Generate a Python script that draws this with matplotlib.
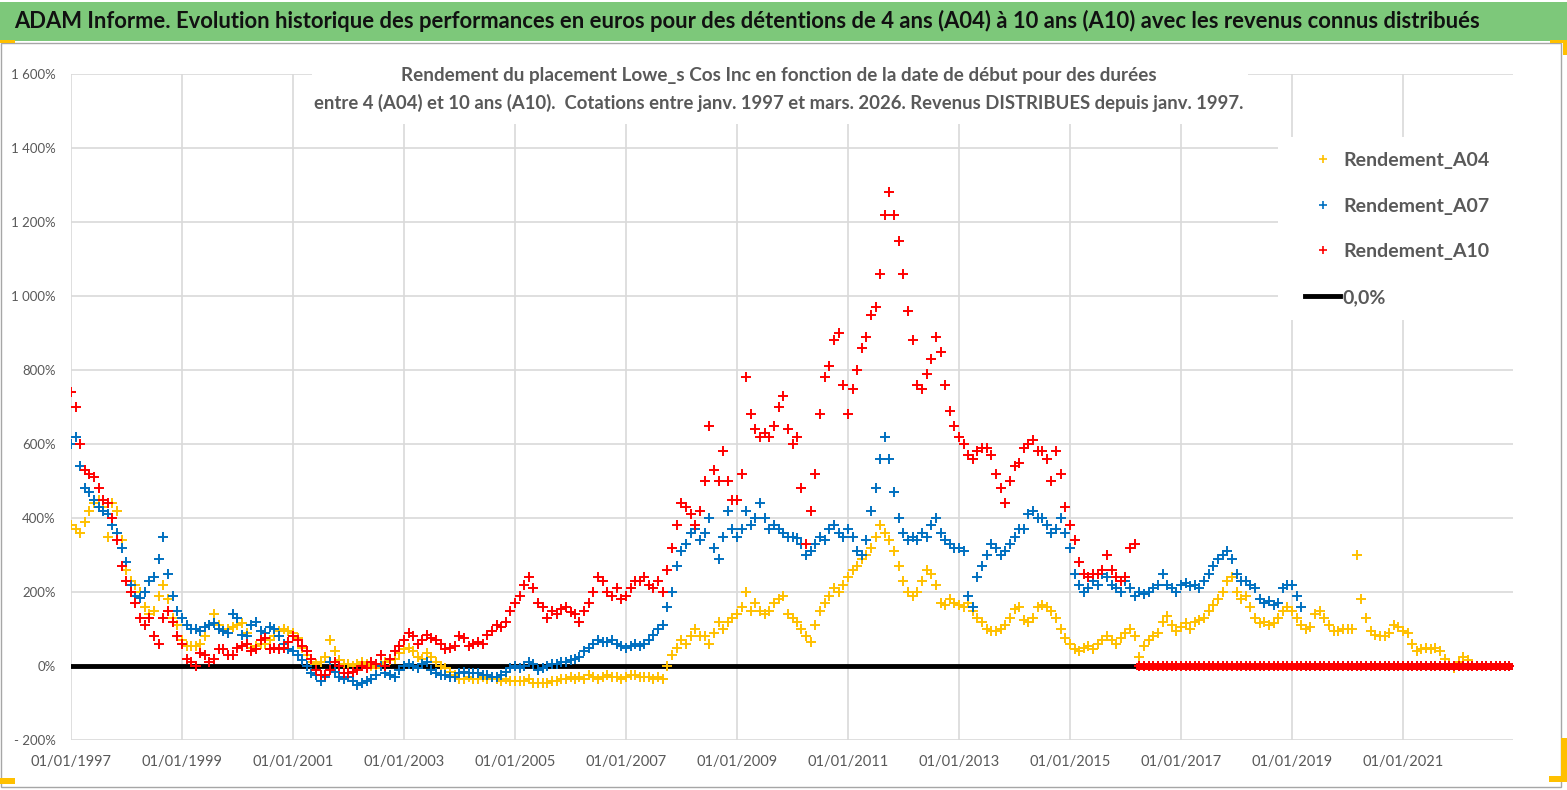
"""
ADAM Informe - rendement Lowe_s Cos Inc, détentions de 4 à 10 ans.
Nuage de points mensuels + ligne 0,0 %.
"""
import numpy as np
import pandas as pd
import matplotlib
matplotlib.use("Agg")
import matplotlib.pyplot as plt
from matplotlib.patches import Rectangle
from matplotlib.lines import Line2D

plt.rcParams["font.family"] = ["Lato", "DejaVu Sans"]

W, H = 1567, 790
N_MONTHS = 312  # janv. 1997 -> déc. 2022

# rendements en %, un point par mois à partir de janv. 1997
a04 = [
    380, 370, 360, 390, 420, 440, 450, 430, 350, 440, 420, 340,   # 1997
    260, 230, 220, 200, 160, 140, 150, 190, 220, 180, 130, 110,   # 1998
    70, 55, 55, 55, 60, 80, 110, 140, 110, 95, 100, 105,          # 1999
    110, 115, 90, 50, 55, 60, 60, 70, 80, 95, 100, 95,            # 2000
    90, 75, 50, 30, 10, 5, 10, 25, 70, 40, 15, 5,                 # 2001
    5, 0, 5, 10, 5, 0, -5, 5, 10, 15, 20, 35,                     # 2002
    45, 50, 40, 25, 20, 35, 25, 10, 0, -5, -15, -25,              # 2003
    -35, -35, -30, -35, -35, -30, -35, -30, -35, -40, -35, -40,   # 2004
    -40, -40, -40, -35, -45, -45, -45, -45, -40, -40, -35, -35,   # 2005
    -30, -35, -30, -35, -25, -30, -35, -30, -25, -30, -30, -35,   # 2006
    -30, -25, -25, -30, -30, -30, -35, -30, -35, 0, 30, 50,       # 2007
    70, 60, 80, 100, 80, 80, 60, 90, 120, 100, 120, 130,          # 2008
    140, 160, 200, 150, 170, 150, 140, 150, 170, 180, 190, 140,   # 2009
    130, 120, 100, 80, 65, 110, 150, 170, 190, 210, 200, 220,     # 2010
    240, 260, 270, 290, 300, 320, 350, 380, 360, 340, 310, 270,   # 2011
    230, 200, 190, 200, 230, 260, 250, 220, 170, 165, 180, 170,   # 2012
    165, 160, 170, 150, 130, 120, 100, 95, 95, 100, 110, 130,     # 2013
    155, 160, 125, 120, 130, 160, 165, 160, 150, 130, 100, 75,    # 2014
    60, 45, 40, 50, 55, 45, 60, 70, 80, 70, 60, 75,               # 2015
    90, 100, 80, 25, 55, 70, 80, 90, 120, 135, 110, 95,           # 2016
    105, 115, 100, 120, 125, 130, 150, 165, 180, 200, 230, 240,   # 2017
    200, 180, 190, 160, 130, 115, 120, 110, 115, 130, 150, 160,   # 2018
    150, 130, 110, 100, 105, 140, 150, 130, 110, 95, 95, 100,     # 2019
    100, 100, 300, 180, 130, 95, 85, 80, 80, 90, 110, 105,        # 2020
    95, 90, 60, 40, 45, 50, 45, 50, 40, 20, 5, -5,                # 2021
    10, 25, 15,                                                   # 2022
]
a07 = [
    600, 620, 540, 480, 470, 450, 430, 420, 410, 380, 360, 320,   # 1997
    280, 220, 190, 185, 200, 230, 240, 290, 350, 250, 190, 150,   # 1998
    130, 110, 100, 100, 95, 105, 110, 115, 100, 95, 90, 140,      # 1999
    130, 85, 80, 110, 120, 95, 90, 105, 100, 80, 60, 45,          # 2000
    40, 30, 15, 0, -20, -25, -40, -30, 10, -15, -30, -35,         # 2001
    -30, -40, -50, -45, -40, -35, -25, 0, -20, -25, -30, -10,     # 2002
    0, 5, 0, -5, 5, 10, -10, -20, -25, -25, -30, -30,             # 2003
    -20, -15, -20, -20, -20, -25, -25, -30, -30, -25, -15, -5,    # 2004
    0, -5, 0, 10, 5, -10, -5, 0, 5, 5, 10, 10,                    # 2005
    15, 20, 25, 40, 50, 60, 70, 65, 65, 70, 60, 55,               # 2006
    50, 55, 60, 55, 60, 70, 85, 100, 110, 160, 200, 270,          # 2007
    310, 330, 360, 370, 340, 360, 400, 320, 290, 350, 420, 370,   # 2008
    350, 370, 420, 380, 400, 440, 400, 370, 380, 370, 360, 350,   # 2009
    350, 345, 330, 300, 310, 330, 350, 340, 370, 380, 360, 350,   # 2010
    370, 350, 310, 300, 340, 420, 480, 560, 620, 560, 470, 400,   # 2011
    360, 340, 350, 340, 360, 350, 380, 400, 360, 340, 330, 320,   # 2012
    320, 310, 190, 160, 240, 270, 300, 330, 320, 300, 310, 330,   # 2013
    350, 370, 370, 410, 420, 400, 400, 380, 360, 370, 400, 360,   # 2014
    320, 250, 220, 200, 210, 230, 220, 250, 240, 220, 210, 200,   # 2015
    230, 210, 190, 200, 195, 200, 210, 220, 250, 220, 210, 200,   # 2016
    220, 225, 215, 220, 210, 230, 250, 270, 290, 300, 310, 290,   # 2017
    250, 230, 230, 220, 210, 180, 170, 175, 165, 170, 210, 220,   # 2018
    220, 190, 160,                                                # 2019
]
a10 = [
    740, 700, 600, 530, 520, 510, 480, 450, 440, 400, 340, 270,   # 1997
    230, 200, 170, 130, 110, 130, 80, 60, 130, 150, 120, 80,      # 1998
    60, 20, 10, 0, 35, 30, 10, 20, 45, 45, 30, 30,                # 1999
    50, 55, 60, 40, 45, 70, 75, 45, 50, 45, 50, 65,               # 2000
    80, 70, 55, 40, 20, -10, -25, -25, -10, 10, 0, -20,           # 2001
    -20, -15, -10, 0, -5, 10, 5, 30, 0, 20, 40, 55,               # 2002
    70, 90, 80, 60, 70, 85, 75, 70, 60, 45, 50, 55,               # 2003
    80, 75, 55, 60, 65, 60, 85, 95, 110, 105, 120, 150,           # 2004
    170, 190, 220, 240, 210, 170, 160, 130, 150, 140, 155, 160,   # 2005
    145, 140, 120, 150, 170, 200, 240, 230, 200, 190, 210, 180,   # 2006
    190, 210, 230, 230, 240, 220, 210, 230, 200, 260, 320, 380,   # 2007
    440, 430, 410, 380, 420, 500, 650, 530, 500, 580, 500, 450,   # 2008
    450, 520, 780, 680, 640, 620, 630, 620, 650, 700, 730, 640,   # 2009
    600, 620, 480, 330, 420, 520, 680, 780, 810, 880, 900, 760,   # 2010
    680, 750, 800, 860, 890, 950, 970, 1060, 1220, 1280, 1220, 1150,  # 2011
    1060, 960, 880, 760, 750, 790, 830, 890, 850, 760, 690, 650,  # 2012
    620, 600, 570, 560, 580, 590, 590, 570, 520, 480, 440, 500,   # 2013
    540, 550, 590, 600, 610, 580, 580, 560, 500, 580, 520, 430,   # 2014
    380, 340, 280, 250, 240, 250, 250, 260, 300, 260, 240, 230,   # 2015
    240, 320, 330,                                                # 2016
]

labels = ["Rendement_A04", "Rendement_A07", "Rendement_A10", "0,0%"]
colors = ["#FFC000", "#0070C0", "#FF0000"]

title = ("ADAM Informe. Evolution historique des performances en euros pour des "
         "détentions de 4 ans (A04) à 10 ans (A10) avec les revenus connus distribués")
sub1 = ("Rendement du placement Lowe_s Cos Inc en fonction de la date de début "
        "pour des durées")
sub2 = ("entre 4 (A04) et 10 ans (A10).  Cotations entre janv. 1997 et mars. 2026. "
        "Revenus DISTRIBUES depuis janv. 1997.")

dates = pd.date_range("1997-01-01", periods=N_MONTHS, freq="MS")


def pad(v):
    # après la dernière cotation utile la série vaut 0
    return np.array(v + [0] * (N_MONTHS - len(v)), dtype=float)


def fx(px):
    return px / W


def fy(py):
    return 1 - py / H


fig = plt.figure(figsize=(W / 100, H / 100), dpi=100)
renderer = fig.canvas.get_renderer()


def fit(t, target):
    w = t.get_window_extent(renderer).width
    t.set_fontsize(t.get_fontsize() * target / w)


# bandeau titre + cadre
fig.patches.append(Rectangle((0, fy(41)), 1, fy(2) - fy(41), transform=fig.transFigure,
                             facecolor="#7DC87A", edgecolor="none", zorder=0))
fig.patches.append(Rectangle((fx(1), fy(787)), fx(1561) - fx(1), fy(43) - fy(787),
                             transform=fig.transFigure, facecolor="none",
                             edgecolor="#A6A6A6", lw=1, zorder=0))
for (x0, y0, x1, y1) in [(0, 40, 15, 43), (1550, 40, 1567, 43), (1563, 40, 1567, 55),
                         (1561, 738, 1567, 782), (1549, 776, 1567, 782), (0, 778, 15, 784)]:
    fig.patches.append(Rectangle((fx(x0), fy(y1)), fx(x1) - fx(x0), fy(y0) - fy(y1),
                                 transform=fig.transFigure, facecolor="#FFC000",
                                 edgecolor="none", zorder=1))
t = fig.text(fx(14), fy(21), title, ha="left", va="center", fontsize=16,
             fontweight="bold", color="#111111")
fit(t, 1471)

ax = fig.add_axes([fx(71), fy(740), fx(1513) - fx(71), fy(74) - fy(740)])
ax.plot(dates, np.zeros(N_MONTHS), color="black", lw=3.5, zorder=1.5)
for vals, col, z in zip([a04, a07, a10], colors, [2, 3, 4]):
    full = pad(vals)
    ax.plot(dates, full, ls="none", marker="+", ms=7, mew=1.4, color=col, zorder=z)
    # points à 0 quotidiens si serrés qu'ils forment une bande
    tail = dates[len(vals):]
    if len(tail):
        ax.plot(tail, full[len(vals):], color=col, lw=5, zorder=z)

ax.set_ylim(-200, 1600)
yt = np.arange(-200, 1601, 200)
ax.set_yticks(yt)
ax.set_yticklabels([("- " if v < 0 else "") + f"{abs(v):,}".replace(",", " ") + "%" for v in yt])
xt = [pd.Timestamp(f"{y}-01-01") for y in range(1997, 2022, 2)]
ax.set_xticks(xt)
ax.set_xticklabels([d.strftime("%d/%m/%Y") for d in xt])
ax.set_xlim(pd.Timestamp("1997-01-01"), pd.Timestamp("2022-12-25"))
ax.grid(True, color="#D9D9D9", lw=1.2)
ax.set_axisbelow(True)
for s in ax.spines.values():
    s.set_visible(False)
ax.tick_params(axis="x", length=0, colors="#595959", labelsize=10.5, pad=11)
ax.tick_params(axis="y", length=0, colors="#595959", labelsize=9.5, pad=11)

# zones blanches du sous-titre et de la légende
for (x0, y0, x1, y1) in [(312, 58, 1248, 124), (1278, 137, 1513, 320)]:
    ax.add_patch(Rectangle((fx(x0), fy(y1)), fx(x1) - fx(x0), fy(y0) - fy(y1),
                           transform=fig.transFigure, facecolor="white",
                           edgecolor="none", zorder=5))

s1 = fig.text(fx(779), fy(75), sub1, ha="center", va="center", fontsize=13,
              fontweight="bold", color="#595959", zorder=6)
s2 = fig.text(fx(779), fy(103), sub2, ha="center", va="center", fontsize=13,
              fontweight="bold", color="#595959", zorder=6)
fit(s1, 752)
fit(s2, 928)

handles = [Line2D([], [], ls="none", marker="+", ms=6, mew=1.2, color=c) for c in colors]
handles.append(Line2D([], [], color="black", lw=3.5))
leg = fig.legend(handles, labels, loc="upper left", bbox_to_anchor=(fx(1305), fy(152)),
                 frameon=False, fontsize=14, borderpad=0, borderaxespad=0,
                 handlelength=1.8, handletextpad=0.15, labelspacing=1.47)
for txt in leg.get_texts():
    txt.set_color("#595959")
    txt.set_fontweight("bold")

fig.savefig("out.png", dpi=100)
